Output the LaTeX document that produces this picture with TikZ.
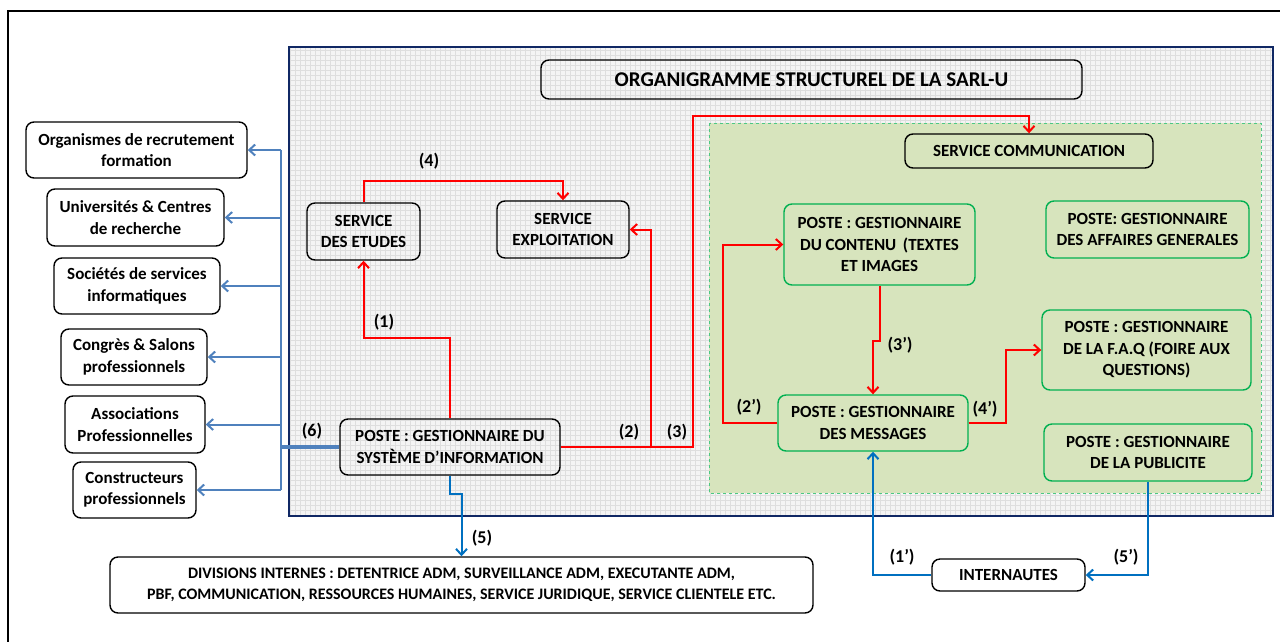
\documentclass[tikz,border=0pt]{standalone}
\usepackage{fontspec}
\setmainfont{Carlito}
\usepackage{tikz}
\usetikzlibrary{arrows.meta}

\definecolor{redline}{RGB}{255,0,0}
\definecolor{steel}{RGB}{79,129,189}
\definecolor{ocean}{RGB}{0,112,192}
\definecolor{navy}{RGB}{16,40,100}
\definecolor{leaf}{RGB}{0,176,80}
\definecolor{sage}{RGB}{215,228,189}
\definecolor{paper}{RGB}{244,244,244}
\definecolor{gridline}{RGB}{222,222,222}

\newcommand{\boxfont}{\fontsize{17}{21.5}\selectfont\bfseries}

\tikzset{
  box/.style={draw, rounded corners=8pt, line width=1.4pt, inner sep=0pt, align=center, font=\boxfont},
  gbox/.style={box, draw=leaf},
  redarr/.style={draw=redline, line width=2pt, -{Straight Barb[length=6pt,width=11pt]}},
  bluearr/.style={draw=ocean, line width=2pt, -{Straight Barb[length=6pt,width=11pt]}},
  steelarr/.style={draw=steel, line width=2pt, -{Straight Barb[length=6pt,width=11pt]}},
  num/.style={font=\fontsize{18}{20}\selectfont\bfseries}
}

\begin{document}
\begin{tikzpicture}[x=1pt,y=-1pt]
      \useasboundingbox (0,0) rectangle (1280,641);
      \draw [line width=2.2pt] (8,11) rectangle (1295,660);
      \fill [paper] (289,47) rectangle (1273,516);
      \draw [gridline, line width=0.5pt, step=5pt] (289,47) grid (1273,516);
      \draw [navy, line width=2.4pt] (289,47) rectangle (1273,516);
      \draw [fill=sage, draw=leaf!70!white, dashed, line width=1pt] (709,123) rectangle (1261,493);

      \node [box, minimum width=541, minimum height=39, font=\fontsize{21}{24}\selectfont\bfseries] (titre) at (811.5,79.5) {ORGANIGRAMME STRUCTUREL DE LA SARL-U};

      \node [box, fill=white, minimum width=221, minimum height=56] (organismes) at (136.5,150) {Organismes de recrutement\\formation};
      \node [box, fill=white, minimum width=177, minimum height=57] (universites) at (135.5,217.5) {Universités \& Centres\\de recherche};
      \node [box, fill=white, minimum width=166, minimum height=56] (societes) at (137,286) {Sociétés de services\\informatiques};
      \node [box, fill=white, minimum width=146, minimum height=56] (congres) at (134,357) {Congrès \& Salons\\professionnels};
      \node [box, fill=white, minimum width=140, minimum height=57] (associations) at (135,424.5) {Associations\\Professionnelles};
      \node [box, fill=white, minimum width=123, minimum height=56] (constructeurs) at (134.5,490) {Constructeurs\\professionnels};

      \node [box, minimum width=113, minimum height=57] (etudes) at (363.5,231.5) {SERVICE\\DES ETUDES};
      \node [box, minimum width=132, minimum height=57] (exploitation) at (563,229.5) {SERVICE\\EXPLOITATION};
      \node [box, minimum width=220, minimum height=56] (systeme) at (450,447) {POSTE : GESTIONNAIRE DU\\SYSTÈME D’INFORMATION};
      \node [box, fill=white, minimum width=703, minimum height=56, font=\fontsize{16}{21}\selectfont\bfseries] (divisions) at (461.5,585) {DIVISIONS INTERNES : DETENTRICE ADM, SURVEILLANCE ADM, EXECUTANTE ADM,\\PBF, COMMUNICATION, RESSOURCES HUMAINES, SERVICE JURIDIQUE, SERVICE CLIENTELE ETC.};

      \node [box, minimum width=248, minimum height=34] (communication) at (1029,151) {SERVICE COMMUNICATION};
      \node [gbox, minimum width=191, minimum height=81] (contenu) at (879.5,244.5) {POSTE : GESTIONNAIRE\\DU CONTENU \,(TEXTES\\ET IMAGES};
      \node [gbox, minimum width=203, minimum height=57] (affaires) at (1147.5,229.5) {POSTE: GESTIONNAIRE\\DES AFFAIRES GENERALES};
      \node [gbox, minimum width=209, minimum height=80] (faq) at (1146.5,350) {POSTE : GESTIONNAIRE\\DE LA F.A.Q (FOIRE AUX\\QUESTIONS)};
      \node [gbox, minimum width=190, minimum height=56] (messages) at (873,423) {POSTE : GESTIONNAIRE\\DES MESSAGES};
      \node [gbox, minimum width=208, minimum height=57] (publicite) at (1148,452.5) {POSTE : GESTIONNAIRE\\DE LA PUBLICITE};
      \node [box, fill=white, minimum width=153, minimum height=32] (internautes) at (1008.5,575) {INTERNAUTES};

      \coordinate (tronc) at (281,0);
      \draw [steel, line width=2pt] (organismes.east -| tronc) -- (constructeurs.east -| tronc);
      \draw [steelarr] (organismes.east -| tronc) -- (organismes.east);
      \draw [steelarr] (universites.east -| tronc) -- (universites.east);
      \draw [steelarr] (societes.east -| tronc) -- (societes.east);
      \draw [steelarr] (congres.east -| tronc) -- (congres.east);
      \draw [steelarr] (associations.east -| tronc) -- (associations.east);
      \draw [steelarr] (constructeurs.east -| tronc) -- (constructeurs.east);
      \draw [steel, line width=3.5pt] (systeme.west) -- (systeme.west -| tronc);

      \draw [redarr] (systeme.north) -- ++(0,-80) -| (etudes.south);
      \draw [redarr] (etudes.north) -- ++(0,-21) -| (exploitation.north);
      \draw [redarr] (systeme.east) -| ([xshift=21pt]exploitation.east) -- (exploitation.east);
      \draw [redarr] (systeme.east) -- ++(132,0) -- ++(0,-331) -| (communication.north);
      \draw [redarr] (messages.west) -- ++(-54,0) |- (contenu.west);
      \draw [redarr] (contenu.south) -- ++(0,55) -| (messages.north);
      \draw [redarr] (messages.east) -- ++(37,0) |- (faq.west);

      \draw [bluearr] (systeme.south) -- ++(0,18) -| (divisions.north);
      \draw [bluearr] (internautes.west) -| (messages.south);
      \draw [bluearr] (publicite.south) |- (internautes.east);

      \node [num] (n1) at (384,322) {(1)};
      \node [num] (n2) at (629,432) {(2)};
      \node [num] (n3) at (677,432) {(3)};
      \node [num] (n4) at (429,161) {(4)};
      \node [num] (n5) at (482,538) {(5)};
      \node [num] (n6) at (312,431) {(6)};
      \node [num] (n1p) at (902,557) {(1’)};
      \node [num] (n2p) at (749,407) {(2’)};
      \node [num] (n3p) at (900,345) {(3’)};
      \node [num] (n4p) at (985,409) {(4’)};
      \node [num] (n5p) at (1126,557) {(5’)};
    \end{tikzpicture}
\end{document}
